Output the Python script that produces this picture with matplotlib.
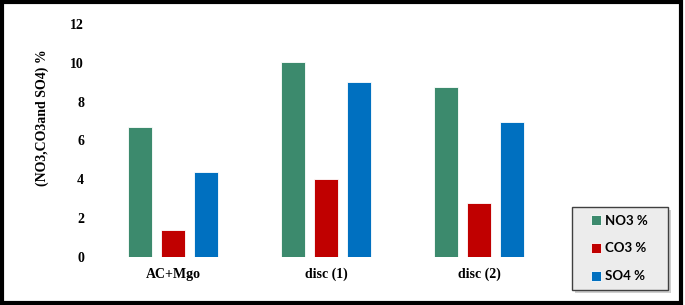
import matplotlib.pyplot as plt
import numpy as np
from matplotlib.patches import Rectangle

categories = ["AC+Mgo", "disc (1)", "disc (2)"]
series = ["NO3 %", "CO3 %", "SO4 %"]
no3 = [6.7, 10.05, 8.75]
co3 = [1.38, 4.0, 2.78]
so4 = [4.38, 9.03, 6.93]
yticks = [0, 2, 4, 6, 8, 10, 12]

colors = ["#3c8a6d", "#c00000", "#0070c0"]

fig = plt.figure(figsize=(6.85, 3.05), dpi=100)
ax = fig.add_axes([0.141, 0.158, 0.67, 0.763])

x = np.arange(len(categories))
width = 0.155
offset = 0.217
for i, (vals, lab) in enumerate(zip([no3, co3, so4], series)):
    ax.bar(x + (i - 1) * offset, vals, width, color=colors[i], label=lab,
           edgecolor="white", linewidth=0.6)

ax.set_xlim(-0.5, 2.5)
ax.set_ylim(0, 12)
ax.set_yticks(yticks)
ax.set_xticks(x)
ax.set_xticklabels(categories)
for s in ax.spines.values():
    s.set_visible(False)
ax.tick_params(length=0, pad=8)
ax.tick_params(axis="y", pad=9)
for lbl in ax.get_xticklabels() + ax.get_yticklabels():
    lbl.set_fontfamily("Liberation Serif")
    lbl.set_fontweight("bold")
    lbl.set_fontsize(10)

fig.text(0.062, 0.613, "(NO3,CO3and SO4) %", rotation=90, ha="center", va="center",
         fontfamily="Liberation Serif", fontweight="bold", fontsize=10)

# legend box (grey with shadow) drawn as patches, entries via legend without frame
bx, by, bw, bh = 571.5 / 685, 1 - 290 / 305, 96.5 / 685, 83 / 305
fig.patches.append(Rectangle((bx + 3 / 685, by - 3 / 305), bw, bh, transform=fig.transFigure,
                             facecolor="#b0b0b0", edgecolor="none", alpha=0.6))
fig.patches.append(Rectangle((bx, by), bw, bh, transform=fig.transFigure,
                             facecolor="#ececec", edgecolor="#404040", linewidth=1.0))

handles, labels = ax.get_legend_handles_labels()
leg = fig.legend(handles, labels, loc="center", bbox_to_anchor=(bx + bw / 2, by + bh / 2),
                 frameon=False,
                 prop={"family": "Lato", "weight": "bold", "size": 9.5},
                 handlelength=0.75, handleheight=0.75, handletextpad=0.3,
                 labelspacing=1.2, borderpad=0, borderaxespad=0)

fig.patches.append(Rectangle((0.003, 0.006), 0.991, 0.988, transform=fig.transFigure,
                             fill=False, edgecolor="black", linewidth=3))

fig.savefig("out.png", dpi=100)
